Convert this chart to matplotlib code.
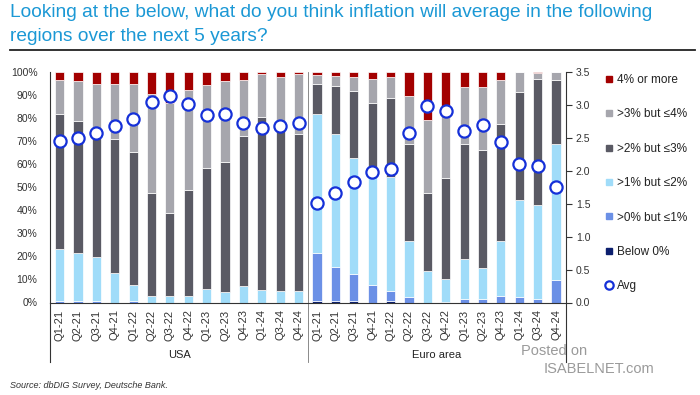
import numpy as np
import matplotlib.pyplot as plt
from matplotlib.lines import Line2D
from matplotlib.transforms import blended_transform_factory

plt.rcParams['font.family'] = ['Liberation Sans', 'DejaVu Sans']

quarters = ["Q1-21", "Q2-21", "Q3-21", "Q4-21", "Q1-22", "Q2-22", "Q3-22",
            "Q4-22", "Q1-23", "Q2-23", "Q4-23", "Q1-24", "Q3-24", "Q4-24"]
regions = ["USA", "Euro area"]
buckets = ["4% or more", ">3% but \u22644%", ">2% but \u22643%",
           ">1% but \u22642%", ">0% but \u22641%", "Below 0%"]

# USA shares (%)
usa_below0 = [0, 0, 0, 0, 0, 0, 0, 0, 0, 0, 0, 0, 0, 0]
usa_0to1 = [0.6, 0.5, 0.5, 0, 0.6, 0, 0, 0, 0, 0, 0, 0, 0, 0]
usa_1to2 = [22.7, 21.1, 19.4, 12.6, 7.2, 2.8, 2.8, 2.8, 5.7, 4.6, 7.0, 5.4, 4.8, 4.8]
usa_2to3 = [58.4, 57.2, 51.5, 58.3, 57.3, 44.9, 36.2, 45.9, 52.7, 56.4, 65.2, 74.9, 71.2, 68.2]
usa_3to4 = [14.8, 17.4, 23.5, 23.8, 29.9, 42.6, 47.4, 43.5, 35.9, 35.2, 24.3, 18.7, 22.0, 26.0]
usa_4plus = [3.5, 3.8, 5.1, 5.3, 5.0, 9.7, 13.6, 7.8, 5.7, 3.8, 3.5, 1.0, 2.0, 1.0]
usa_avg = [2.45, 2.50, 2.57, 2.68, 2.78, 3.04, 3.14, 3.01, 2.84, 2.86, 2.72, 2.65, 2.68, 2.73]

# Euro area shares (%)
ea_below0 = [0.6, 0.5, 0.8, 0, 0.8, 0, 0, 0, 0, 0, 0, 0, 0, 0]
ea_0to1 = [21.0, 14.9, 11.5, 7.8, 4.4, 2.2, 0, 0.3, 1.4, 1.4, 2.9, 2.5, 1.6, 9.7]
ea_1to2 = [60.0, 57.8, 50.2, 47.2, 49.3, 24.3, 13.5, 10.0, 17.6, 13.5, 23.8, 41.8, 40.6, 59.0]
ea_2to3 = [13.2, 20.7, 29.4, 31.4, 34.1, 42.1, 33.8, 43.5, 49.8, 51.2, 50.7, 46.9, 54.8, 27.8]
ea_3to4 = [3.8, 4.4, 6.1, 10.6, 9.1, 21.1, 31.8, 28.7, 24.5, 27.5, 19.1, 8.8, 2.4, 3.5]
ea_4plus = [1.4, 1.7, 2.0, 3.0, 2.3, 10.3, 20.9, 17.5, 6.7, 6.4, 3.5, 0, 0.6, 0]
ea_avg = [1.51, 1.67, 1.83, 1.98, 2.02, 2.57, 2.99, 2.91, 2.60, 2.69, 2.44, 2.10, 2.08, 1.75]

colors = {"Below 0%": "#0c1f6e", ">0% but \u22641%": "#6b90e6",
          ">1% but \u22642%": "#a0dcf9", ">2% but \u22643%": "#5a5a64",
          ">3% but \u22644%": "#a6a6ad", "4% or more": "#a30000"}
avg_color = "#1530d8"

stack_order = ["Below 0%", ">0% but \u22641%", ">1% but \u22642%",
               ">2% but \u22643%", ">3% but \u22644%", "4% or more"]
series = {
    "Below 0%": usa_below0 + ea_below0,
    ">0% but \u22641%": usa_0to1 + ea_0to1,
    ">1% but \u22642%": usa_1to2 + ea_1to2,
    ">2% but \u22643%": usa_2to3 + ea_2to3,
    ">3% but \u22644%": usa_3to4 + ea_3to4,
    "4% or more": usa_4plus + ea_4plus,
}
avg_all = usa_avg + ea_avg
labels = quarters + quarters
x = np.arange(len(labels))

W, H = 700, 395
fig = plt.figure(figsize=(W / 100, H / 100), dpi=100)
ax = fig.add_axes([50 / W, 1 - 302.5 / H, 516 / W, 230.5 / H])

bottom = np.zeros(len(x))
for name in stack_order:
    vals = np.array(series[name], dtype=float)
    ax.bar(x, vals, width=0.5, bottom=bottom, color=colors[name],
           edgecolor='white', linewidth=0.5, zorder=2)
    bottom += vals

ax.set_xlim(-0.52, 27.54)
ax.set_ylim(0, 100)
ax.set_yticks(np.arange(0, 101, 10))
ax.set_yticklabels([f"{v}%" for v in range(0, 101, 10)], fontsize=7.5, color='#333333')
ax.tick_params(axis='y', length=0, pad=9)
ax.set_xticks(x)
ax.set_xticklabels(labels, rotation=90, fontsize=8, color='#333333')
ax.tick_params(axis='x', length=0, pad=5)
for s in ['top', 'right']:
    ax.spines[s].set_visible(False)
for s in ['left', 'bottom']:
    ax.spines[s].set_color('#333333')
    ax.spines[s].set_linewidth(0.8)

ax2 = ax.twinx()
ax2.set_ylim(0, 3.5)
ax2.set_yticks(np.arange(0, 3.51, 0.5))
ax2.set_yticklabels([f"{v:.1f}" for v in np.arange(0, 3.51, 0.5)], fontsize=7.5, color='#333333')
ax2.tick_params(axis='y', length=4, width=0.8, color='#333333', pad=3, direction='out')
for s in ['top', 'left', 'bottom']:
    ax2.spines[s].set_visible(False)
ax2.spines['right'].set_color('#333333')
ax2.spines['right'].set_linewidth(0.8)
ax2.plot(x, avg_all, linestyle='none', marker='o', markersize=8.8,
         markerfacecolor='white', markeredgecolor=avg_color, markeredgewidth=1.6,
         zorder=5, clip_on=False)

# group separators and labels
trans = blended_transform_factory(ax.transData, ax.transAxes)
ax.plot([13.5, 13.5], [1, -0.258], transform=trans, color='#777777', lw=0.6, clip_on=False, zorder=1)
for xv in [-0.52, 27.54]:
    ax.plot([xv, xv], [0, -0.258], transform=trans, color='#333333', lw=0.8, clip_on=False)
centers = [6.5, 20.5]
for c, r in zip(centers, regions):
    ax.text(c, -0.228, r, transform=trans, ha='center', va='center', fontsize=8, color='#222222')

# legend
handles = [Line2D([], [], linestyle='none', marker='s', markersize=4,
                  markerfacecolor=colors[b], markeredgecolor=colors[b]) for b in buckets]
handles.append(Line2D([], [], linestyle='none', marker='o', markersize=6,
                      markerfacecolor='white', markeredgecolor=avg_color, markeredgewidth=1.6))
fig.legend(handles, buckets + ["Avg"], loc='upper left',
           bbox_to_anchor=(600 / W, 1 - 68 / H), frameon=False, fontsize=8.5,
           handlelength=0.6, handletextpad=0.3, labelspacing=1.9, borderpad=0,
           labelcolor='#222222')

# title
fig.text(10 / W, 1 - 4 / H,
         "Looking at the below, what do you think inflation will average in the following\nregions over the next 5 years?",
         ha='left', va='top', fontsize=13.8, color='#1b98d5', linespacing=1.55)
fig.add_artist(Line2D([10 / W, 695 / W], [1 - 50 / H, 1 - 50 / H], color='#222222', lw=1.3))

# source and watermark
fig.text(10 / W, 1 - 386 / H, "Source: dbDIG Survey, Deutsche Bank.", fontsize=6.5,
         style='italic', color='#333333', ha='left', va='center')
fig.text(521 / W, 1 - 351 / H, "Posted on", fontsize=10.5, color='#9a9a9a', ha='left', va='center')
fig.text(544 / W, 1 - 369 / H, "ISABELNET.com", fontsize=10.5, color='#9a9a9a', ha='left', va='center')

fig.savefig('out.png', dpi=100)
